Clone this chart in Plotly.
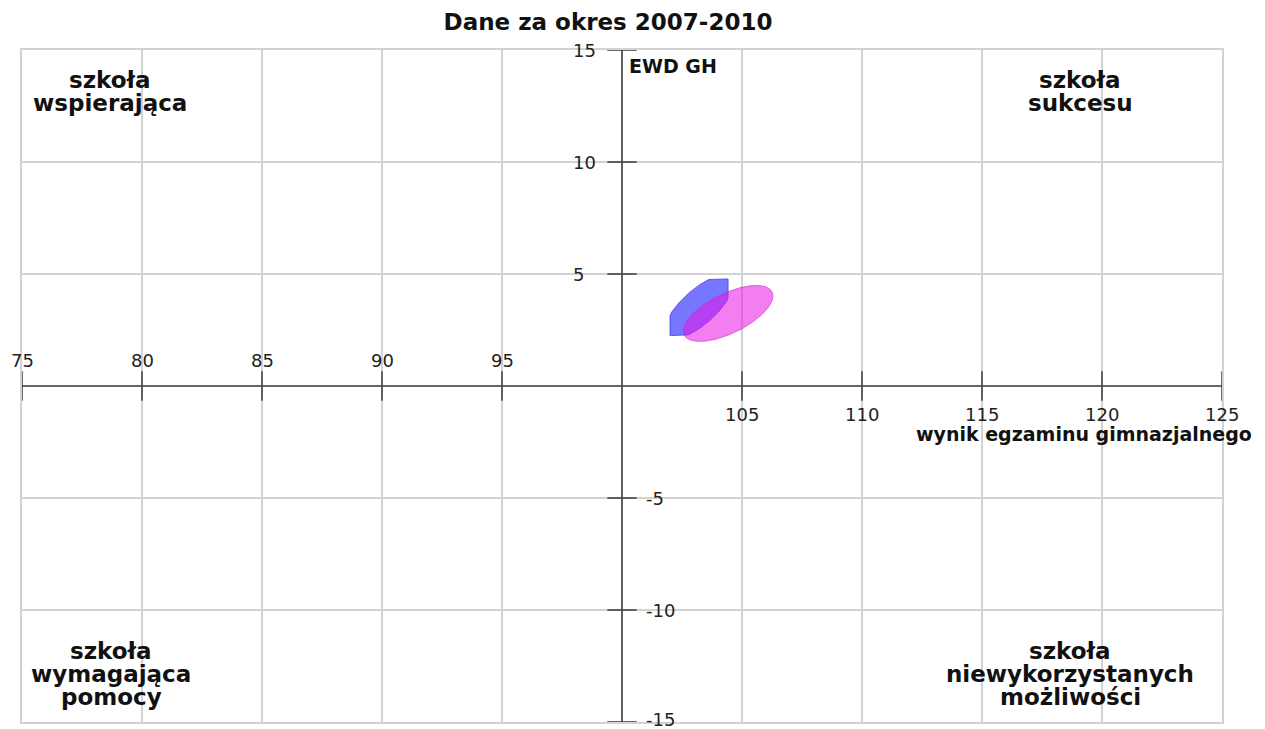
import numpy as np
import plotly.graph_objects as go

# ---- data ----
title_text = "Dane za okres 2007-2010"
x_title = "wynik egzaminu gimnazjalnego"
y_title = "EWD GH"
x_ticks = [75, 80, 85, 90, 95, 100, 105, 110, 115, 120, 125]
y_ticks = [-15, -10, -5, 0, 5, 10, 15]
x_origin = 100
y_origin = 0

# confidence ellipses (centre, half major vector, half minor vector, clip box)
ell_names = ["2007-2010 (a)", "2007-2010 (b)"]
ell_cx = [103.21, 104.42]
ell_cy = [3.53, 3.24]
ell_major_dx = [1.35, 1.835]
ell_major_dy = [1.30, 0.959]
ell_minor_dx = [-0.48, -0.365]
ell_minor_dy = [0.57, 0.803]
ell_xmin = [102.0, 75.0]
ell_xmax = [104.42, 125.0]
ell_ymin = [2.25, -15.0]
ell_ymax = [4.78, 15.0]
ell_fill = ["rgba(60,60,255,0.70)", "rgba(232,20,232,0.55)"]
ell_line = ["rgba(60,60,230,0.75)", "rgba(200,40,200,0.6)"]

# quadrant labels: lines, centre x (page px), first line centre y (page px)
quadrants = [
    (["szkoła", "wspierająca"], 110, 80),
    (["szkoła", "sukcesu"], 1080, 80),
    (["szkoła", "wymagająca", "pomocy"], 111, 651),
    (["szkoła", "niewykorzystanych", "możliwości"], 1070, 651),
]

FONT = "DejaVu Sans"
OFF = 8  # default page margin around the figure div
PAGE_W, PAGE_H = 1265, 729
W, H = PAGE_W - OFF, PAGE_H - OFF
PL, PR, PT, PB = 22, 1222, 50, 722  # plot area in page pixels
ML, MR, MT, MB = PL - OFF, W - (PR - OFF), PT - OFF, H - (PB - OFF)
plot_w = PR - PL
plot_h = PB - PT

fig = go.Figure()

t = np.linspace(0, 2 * np.pi, 361)
for i in range(len(ell_cx)):
    ex = ell_cx[i] + ell_major_dx[i] * np.cos(t) + ell_minor_dx[i] * np.sin(t)
    ey = ell_cy[i] + ell_major_dy[i] * np.cos(t) + ell_minor_dy[i] * np.sin(t)
    ex = np.clip(ex, ell_xmin[i], ell_xmax[i])
    ey = np.clip(ey, ell_ymin[i], ell_ymax[i])
    fig.add_trace(go.Scatter(x=ex, y=ey, mode="lines", fill="toself",
                             fillcolor=ell_fill[i],
                             line=dict(color=ell_line[i], width=1),
                             name=ell_names[i], hoverinfo="skip"))

# axis lines through the origin
fig.add_trace(go.Scatter(x=[x_ticks[0], x_ticks[-1]], y=[y_origin, y_origin], mode="lines",
                         line=dict(color="#444444", width=1.6), hoverinfo="skip",
                         cliponaxis=False))
fig.add_trace(go.Scatter(x=[x_origin, x_origin], y=[y_ticks[0], y_ticks[-1]], mode="lines",
                         line=dict(color="#444444", width=1.6), hoverinfo="skip",
                         cliponaxis=False))

# tick marks crossing the axes
xt = [v for v in x_ticks if v != x_origin]
yt = [v for v in y_ticks if v != y_origin]
fig.add_trace(go.Scatter(x=xt, y=[y_origin] * len(xt), mode="markers",
                         marker=dict(symbol="line-ns", size=21,
                                     line=dict(color="#444444", width=1.6)),
                         hoverinfo="skip", cliponaxis=False))
fig.add_trace(go.Scatter(x=[x_origin] * len(yt), y=yt, mode="markers",
                         marker=dict(symbol="line-ew", size=21,
                                     line=dict(color="#444444", width=1.6)),
                         hoverinfo="skip", cliponaxis=False))

ann = []
tick_font = dict(family=FONT, size=18, color="#222222")
for v in xt:
    if v < x_origin:
        ann.append(dict(x=v, y=y_origin, xref="x", yref="y", text=str(v), showarrow=False,
                        xanchor="center", yanchor="middle", yshift=26, font=tick_font))
    else:
        ann.append(dict(x=v, y=y_origin, xref="x", yref="y", text=str(v), showarrow=False,
                        xanchor="center", yanchor="middle", yshift=-28, font=tick_font))
for v in yt:
    if v > y_origin:
        ann.append(dict(x=x_origin, y=v, xref="x", yref="y", text=str(v), showarrow=False,
                        xanchor="left", yanchor="middle", xshift=-51, font=tick_font))
    else:
        shift = 3 if v == y_ticks[0] else 0
        ann.append(dict(x=x_origin, y=v, xref="x", yref="y", text=str(v), showarrow=False,
                        xanchor="left", yanchor="middle", xshift=22, yshift=shift,
                        font=tick_font))

# axis titles
ann.append(dict(x=x_ticks[-1], y=y_origin, xref="x", yref="y", text="<b>" + x_title + "</b>",
                showarrow=False, xanchor="right", yanchor="middle", xshift=32, yshift=-48,
                font=dict(family=FONT, size=19, color="#111111")))
ann.append(dict(x=x_origin, y=y_ticks[-1], xref="x", yref="y", text="<b>" + y_title + "</b>",
                showarrow=False, xanchor="left", yanchor="middle", xshift=5, yshift=-16,
                font=dict(family=FONT, size=19, color="#111111")))

# quadrant labels
for lines, px, top in quadrants:
    for k, line in enumerate(lines):
        py = top + 23 * k
        ann.append(dict(x=(px - PL) / plot_w, y=(PB - py) / plot_h, xref="paper", yref="paper",
                        text="<b>" + line + "</b>", showarrow=False,
                        xanchor="center", yanchor="middle",
                        font=dict(family=FONT, size=23, color="#111111")))

fig.update_layout(
    width=W, height=H,
    margin=dict(l=ML, r=MR, t=MT, b=MB),
    paper_bgcolor="white", plot_bgcolor="white",
    showlegend=False,
    title=dict(text="<b>" + title_text + "</b>", x=(608 - OFF) / W, xref="container",
               xanchor="center", y=1 - (22 - OFF) / H, yref="container", yanchor="middle",
               font=dict(family=FONT, size=23, color="#111111")),
    xaxis=dict(range=[x_ticks[0], x_ticks[-1]], tickvals=x_ticks, showticklabels=False,
               showgrid=True, gridcolor="#d2d2d2", gridwidth=1.5, zeroline=False,
               showline=True, mirror=True, linecolor="#d2d2d2", linewidth=1.5, ticks=""),
    yaxis=dict(range=[y_ticks[0], y_ticks[-1]], tickvals=y_ticks, showticklabels=False,
               showgrid=True, gridcolor="#d2d2d2", gridwidth=1.5, zeroline=False,
               showline=True, mirror=True, linecolor="#d2d2d2", linewidth=1.5, ticks=""),
    annotations=ann,
    font=dict(family=FONT),
)

fig.write_html("out.html")
